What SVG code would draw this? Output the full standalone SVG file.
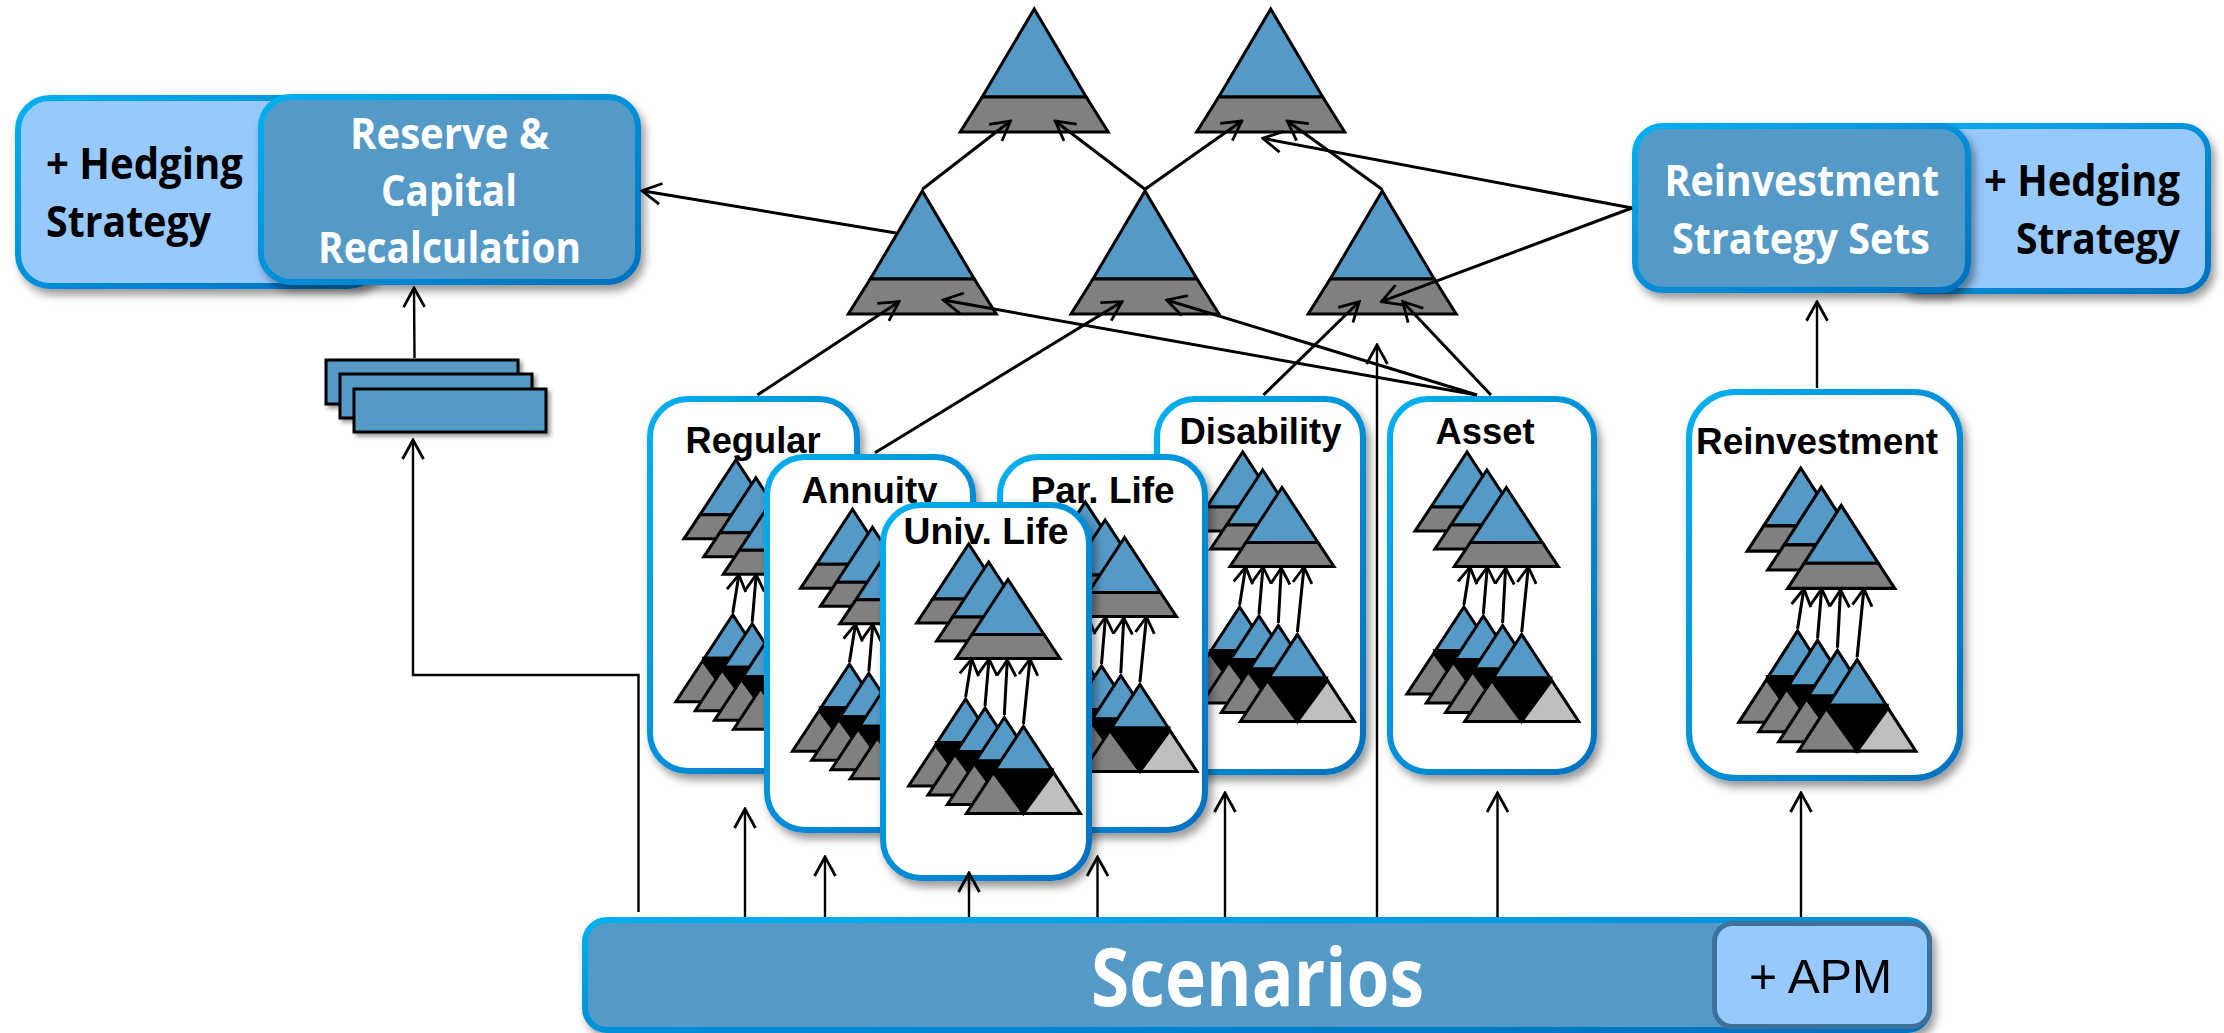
<svg xmlns="http://www.w3.org/2000/svg" width="2224" height="1033" viewBox="0 0 2224 1033">
<style>
.blue{fill:#5599C7}.grey{fill:#808080}.lg{fill:#BFBFBF}.blk{fill:#000}
.tri polygon,.big polygon{stroke:#000;stroke-width:3;stroke-linejoin:miter}
.lnk line,.lnk polyline{stroke:#000;stroke-width:3;fill:none}
.v line,.v polyline{stroke-width:2.4}
.ta line{stroke:#000;stroke-width:3}
.box{stroke:url(#edge);stroke-width:6;filter:url(#sh)}
.card{fill:#fff}.dark{fill:#5599C7}.pale{fill:#97C9FD}
.ct{font-family:"Liberation Sans",Arial,sans-serif;font-weight:700;font-size:37px;fill:#000}
.ht{font-family:"Open Sans","Noto Sans",sans-serif;font-weight:700;font-size:43px}
.w{fill:#fff}.k{fill:#000}
.st{fill:#5599C7;stroke:#000;stroke-width:3;filter:url(#sh2)}
</style>
<defs>
<linearGradient id="edge" x1="0" y1="0" x2="1" y2="1"><stop offset="0" stop-color="#00B0F0"/><stop offset="1" stop-color="#0070C0"/></linearGradient>
<filter id="sh" x="-10%" y="-10%" width="125%" height="125%"><feDropShadow dx="4" dy="6" stdDeviation="4" flood-color="#000" flood-opacity="0.4"/></filter>
<filter id="sh2" x="-10%" y="-10%" width="125%" height="130%"><feDropShadow dx="3" dy="3" stdDeviation="2" flood-color="#000" flood-opacity="0.4"/></filter>
<marker id="a" viewBox="-21 -12 23 24" refX="0" refY="0" markerWidth="23" markerHeight="24" markerUnits="userSpaceOnUse" orient="auto"><path d="M-19,-10.5 L0,0 L-19,10.5" fill="none" stroke="#000" stroke-width="2.8"/></marker>
<marker id="s" viewBox="-18 -12 20 24" refX="0" refY="0" markerWidth="20" markerHeight="24" markerUnits="userSpaceOnUse" orient="auto"><path d="M-16,-9.5 L0,0 L-16,9.5" fill="none" stroke="#000" stroke-width="2.8"/></marker>
<g id="t" class="tri"><polygon class="blue" points="0,0 -36,55 36,55"/><polygon class="grey" points="-36,55 36,55 52,79 -52,79"/></g>
<g id="q" class="tri"><polygon class="blue" points="0,0 -28.5,43.5 28.5,43.5"/><polygon class="blk" points="-28.5,43.5 28.5,43.5 0,87"/><polygon class="grey" points="-30,46 -57,87 0,87"/><polygon class="lg" points="30,46 57,87 0,87"/></g>
<g id="T" class="big"><polygon class="blue" points="0,0 -52,88 52,88"/><polygon class="grey" points="-52,88 52,88 74,123 -74,123"/></g>
<g id="tree">
<use href="#t" x="968.7" y="544"/><use href="#t" x="988.6" y="562"/><use href="#t" x="1008" y="579.5"/>
<use href="#q" x="965.6" y="699"/><use href="#q" x="985" y="708"/><use href="#q" x="1004.3" y="717.5"/><use href="#q" x="1023.4" y="726.4"/>
<g class="ta">
<line x1="965.6" y1="697" x2="971.7" y2="659" marker-end="url(#s)"/>
<line x1="985" y1="706" x2="989" y2="659" marker-end="url(#s)"/>
<line x1="1004.3" y1="715" x2="1007.3" y2="660" marker-end="url(#s)"/>
<line x1="1023.4" y1="724" x2="1030" y2="659" marker-end="url(#s)"/>
</g></g>
</defs>
<rect width="2224" height="1033" fill="#fff"/>

<g id="top-left"><use href="#T" x="1034.2" y="9"/></g>
<g id="top-right"><use href="#T" x="1270.7" y="9"/></g>
<g id="mid-1"><use href="#T" x="922.3" y="191"/></g>
<g id="mid-2"><use href="#T" x="1145" y="191"/></g>
<g id="mid-3"><use href="#T" x="1382.2" y="191"/></g>

<g id="hedging-left">
<rect class="box pale" x="18" y="98" width="362" height="188" rx="32"/>
<text class="ht k" x="46" y="179" textLength="197" lengthAdjust="spacingAndGlyphs">+ Hedging</text>
<text class="ht k" x="46" y="237" textLength="165" lengthAdjust="spacingAndGlyphs">Strategy</text>
</g>
<g id="reserve">
<rect class="box dark" x="261" y="97" width="377" height="185" rx="30"/>
<text class="ht w" x="350" y="149" textLength="199" lengthAdjust="spacingAndGlyphs">Reserve &amp;</text>
<text class="ht w" x="381" y="206" textLength="136" lengthAdjust="spacingAndGlyphs">Capital</text>
<text class="ht w" x="318" y="263" textLength="263" lengthAdjust="spacingAndGlyphs">Recalculation</text>
</g>
<g id="stack">
<rect class="st" x="326" y="360" width="192" height="44"/>
<rect class="st" x="340" y="374" width="192" height="44"/>
<rect class="st" x="354" y="389" width="192" height="43"/>
</g>
<g id="hedging-right">
<rect class="box pale" x="1893" y="126" width="315" height="165" rx="26"/>
<text class="ht k" x="1984" y="196" textLength="196" lengthAdjust="spacingAndGlyphs">+ Hedging</text>
<text class="ht k" x="2016" y="254" textLength="164" lengthAdjust="spacingAndGlyphs">Strategy</text>
</g>
<g id="reinvestment-sets">
<rect class="box dark" x="1635" y="126" width="333" height="164" rx="28"/>
<text class="ht w" x="1664.5" y="196" textLength="274.5" lengthAdjust="spacingAndGlyphs">Reinvestment</text>
<text class="ht w" x="1672" y="254" textLength="258" lengthAdjust="spacingAndGlyphs">Strategy Sets</text>
</g>

<g id="card-regular">
<rect class="box card" x="650" y="399" width="207" height="372" rx="38"/>
<text class="ct" x="685.5" y="453" textLength="135" lengthAdjust="spacingAndGlyphs">Regular</text>
<use href="#tree" transform="translate(-232.8,-84.2)"/>
</g>
<g id="card-disability">
<rect class="box card" x="1157" y="399" width="206" height="373" rx="38"/>
<text class="ct" x="1179.5" y="444" textLength="162" lengthAdjust="spacingAndGlyphs">Disability</text>
<use href="#tree" transform="translate(274,-92)"/>
</g>
<g id="card-annuity">
<rect class="box card" x="767" y="457" width="206" height="373" rx="38"/>
<text class="ct" x="801.5" y="503" textLength="136" lengthAdjust="spacingAndGlyphs">Annuity</text>
<use href="#tree" transform="translate(-116.2,-34.7)"/>
</g>
<g id="card-par-life">
<rect class="box card" x="1000" y="457" width="205" height="373" rx="38"/>
<text class="ct" x="1030.7" y="503" textLength="144" lengthAdjust="spacingAndGlyphs">Par. Life</text>
<use href="#tree" transform="translate(116.5,-42)"/>
</g>
<g id="card-univ-life">
<rect class="box card" x="883" y="505" width="206" height="373" rx="38"/>
<text class="ct" x="903.6" y="544" textLength="165" lengthAdjust="spacingAndGlyphs">Univ. Life</text>
<use href="#tree"/>
</g>
<g id="card-asset">
<rect class="box card" x="1390" y="399" width="204" height="373" rx="38"/>
<text class="ct" x="1435.5" y="444" textLength="99" lengthAdjust="spacingAndGlyphs">Asset</text>
<use href="#tree" transform="translate(498.3,-92)"/>
</g>
<g id="card-reinvestment">
<rect class="box card" x="1689" y="392" width="271" height="386" rx="46"/>
<text class="ct" x="1696" y="454" textLength="242" lengthAdjust="spacingAndGlyphs">Reinvestment</text>
<use href="#tree" transform="translate(803,-103) scale(1.03,1.05)"/>
</g>

<g id="connectors" class="lnk">
<line x1="922.3" y1="189.3" x2="1010.5" y2="121" marker-end="url(#a)"/>
<line x1="1145" y1="189.3" x2="1055.2" y2="121" marker-end="url(#a)"/>
<line x1="1145" y1="189.3" x2="1241.8" y2="121" marker-end="url(#a)"/>
<line x1="1382" y1="189.3" x2="1287.3" y2="121" marker-end="url(#a)"/>
<line x1="1632" y1="208" x2="1262.8" y2="138.3" marker-end="url(#a)"/>
<line x1="1632" y1="208" x2="1381.4" y2="301.7" marker-end="url(#a)"/>
<line x1="896" y1="233" x2="642" y2="190.7" marker-end="url(#a)"/>
<line x1="1477" y1="395" x2="943.3" y2="300" marker-end="url(#a)"/>
<line x1="1477" y1="395" x2="1166.7" y2="300" marker-end="url(#a)"/>
<line x1="1491" y1="395" x2="1402.7" y2="301.7" marker-end="url(#a)"/>
<line x1="1263.5" y1="395" x2="1359.2" y2="301.7" marker-end="url(#a)"/>
<line x1="875" y1="452.7" x2="1122" y2="301.7" marker-end="url(#a)"/>
<line x1="757.4" y1="395" x2="899" y2="301.7" marker-end="url(#a)"/>
<g class="v">
<line x1="414.5" y1="358" x2="414" y2="288" marker-end="url(#a)"/>
<polyline points="638.5,912 638.5,675 413,675 413,440" marker-end="url(#a)"/>
<line x1="745" y1="917" x2="745" y2="809" marker-end="url(#a)"/>
<line x1="825" y1="917" x2="825" y2="857" marker-end="url(#a)"/>
<line x1="969" y1="917" x2="969" y2="873" marker-end="url(#a)"/>
<line x1="1097.5" y1="917" x2="1097.5" y2="857" marker-end="url(#a)"/>
<line x1="1225" y1="917" x2="1225" y2="793" marker-end="url(#a)"/>
<line x1="1377" y1="917" x2="1377" y2="345" marker-end="url(#a)"/>
<line x1="1497.5" y1="917" x2="1497.5" y2="793" marker-end="url(#a)"/>
<line x1="1801" y1="917" x2="1801" y2="793" marker-end="url(#a)"/>
<line x1="1817" y1="388" x2="1817" y2="301.7" marker-end="url(#a)"/>
</g>
</g>

<g id="scenarios">
<rect class="box dark" x="585" y="920" width="1344" height="110" rx="22"/>
<text x="1091" y="1006" font-family="'Open Sans','Noto Sans',sans-serif" font-weight="700" font-size="80" fill="#fff" textLength="333" lengthAdjust="spacingAndGlyphs">Scenarios</text>
</g>
<g id="apm">
<rect x="1714.5" y="923.5" width="215" height="103" rx="18" fill="#97C9FD" stroke="#3F729B" stroke-width="5"/>
<text x="1749" y="993" font-family="'Liberation Sans',Arial,sans-serif" font-size="48" fill="#000" textLength="143" lengthAdjust="spacingAndGlyphs">+ APM</text>
</g>
</svg>
